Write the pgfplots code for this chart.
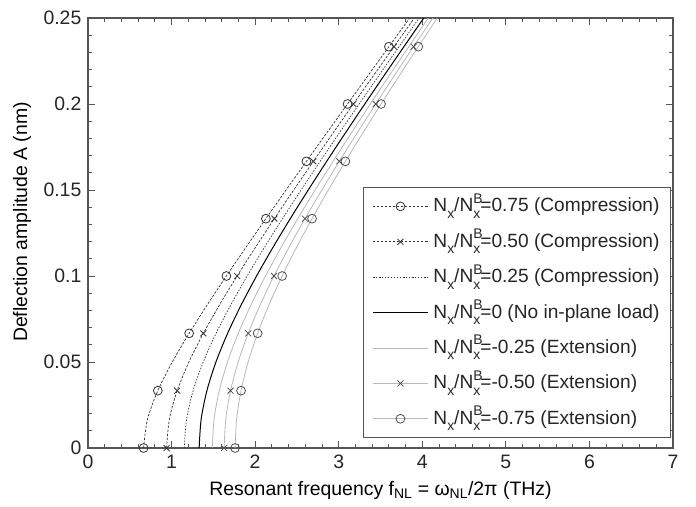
\documentclass[border=0pt]{standalone}
\usepackage{fontspec}
\setmainfont{Liberation Sans}
\usepackage{pgfplots}
\usepackage{pgfplotstable}
\pgfplotsset{compat=1.18}
\newcommand{\ssz}[1]{\hbox{\fontsize{14}{14}\selectfont #1}}
\newcommand{\nxb}{N\raisebox{-6.5bp}{\ssz{x}}/N\rlap{\raisebox{8.5bp}{\ssz{B}}}\raisebox{-6.5bp}{\ssz{x}}}
\definecolor{axgray}{HTML}{555555}
\definecolor{darkl}{HTML}{333333}
\definecolor{lightl}{HTML}{B8B8B8}
\definecolor{markg}{HTML}{505050}

% A (nm) and resonant frequency (THz) for each in-plane load ratio
\pgfplotstableread{
A        a      b      c      d      e      f      g
0.000000 0.6650 0.9400 1.1520 1.3300 1.4870 1.6290 1.7600
0.016667 0.7114 0.9734 1.1794 1.3538 1.5083 1.6485 1.7781
0.033333 0.8353 1.0673 1.2580 1.4228 1.5706 1.7056 1.8312
0.050000 1.0086 1.2077 1.3792 1.5310 1.6692 1.7968 1.9164
0.066667 1.2101 1.3805 1.5328 1.6707 1.7982 1.9173 2.0297
0.083333 1.4281 1.5751 1.7101 1.8347 1.9515 2.0617 2.1668
0.100000 1.6560 1.7843 1.9045 2.0172 2.1240 2.2257 2.3233
0.116667 1.8902 2.0035 2.1113 2.2135 2.3112 2.4050 2.4956
0.133333 2.1287 2.2299 2.3272 2.4203 2.5100 2.5966 2.6808
0.150000 2.3701 2.4614 2.5499 2.6351 2.7178 2.7980 2.8762
0.166667 2.6136 2.6968 2.7778 2.8562 2.9326 3.0071 3.0800
0.183333 2.8588 2.9350 3.0096 3.0821 3.1531 3.2224 3.2906
0.200000 3.1052 3.1755 3.2446 3.3119 3.3781 3.4429 3.5068
0.216667 3.3525 3.4177 3.4820 3.5449 3.6067 3.6675 3.7276
0.233333 3.6006 3.6614 3.7215 3.7804 3.8384 3.8956 3.9522
0.250000 3.8493 3.9062 3.9626 4.0180 4.0726 4.1266 4.1800
}\datatable

\begin{document}
\fontsize{19.5}{23}\selectfont
\begin{tikzpicture}
\begin{axis}[
  width=585bp, height=430bp, scale only axis,
  xmin=0, xmax=7, ymin=0, ymax=0.25,
  xtick={0,1,2,3,4,5,6,7},
  ytick={0,0.05,0.1,0.15,0.2,0.25},
  yticklabels={0,0.05,0.1,0.15,0.2,0.25},
  minor x tick num=4, minor y tick num=4,
  tick align=inside,
  major tick length=7bp, minor tick length=4bp,
  axis line style={axgray, line width=1.2bp},
  every tick/.style={axgray, line width=0.8bp},
  tick label style={font=\fontsize{19.5}{23}\selectfont, text=black!85},
  /pgf/number format/assume math mode=true,
  clip mode=individual,
  xlabel={Resonant frequency f$_{\ssz{NL}}$ = ω$_{\ssz{NL}}$/2π (THz)},
  ylabel={Deflection amplitude A (nm)},
  label style={font=\fontsize{20.5}{24}\selectfont, text=black!85},
  every axis x label/.style={at={(rel axis cs:0.5,-0.0977)}, anchor=center},
  every axis y label/.style={at={(rel axis cs:-0.1128,0.5256)}, anchor=center, rotate=90},
  legend style={at={(0.470,0.0233)}, anchor=south west, draw=axgray, line width=1bp,
    font=\fontsize{19.2}{23}\selectfont, text=black!85, row sep=0bp, column sep=3bp,
    inner xsep=9bp, inner ysep=1bp,
    nodes={text height=21bp, text depth=10bp, inner ysep=2.2bp}},
  legend cell align=left,
  legend image code/.code={\draw[mark repeat=2,mark phase=2,#1] plot coordinates {(0bp,0bp) (27.5bp,0bp) (55bp,0bp)};},
]
\addplot[darkl, line width=0.7bp, dash pattern=on 2.5bp off 1.5bp, smooth,
  mark=o, mark size=4.4bp, mark repeat=2, mark options={solid, darkl, line width=0.8bp}]
  table[x=a, y=A]{\datatable};
\addlegendentry{\nxb=0.75 (Compression)}
\addplot[darkl, line width=0.7bp, dash pattern=on 2.5bp off 1.5bp, smooth,
  mark=x, mark size=4.2bp, mark repeat=2, mark options={solid, darkl, line width=0.8bp}]
  table[x=b, y=A]{\datatable};
\addlegendentry{\nxb=0.50 (Compression)}
\addplot[darkl, line width=0.7bp, dash pattern=on 1.5bp off 1.5bp, smooth]
  table[x=c, y=A]{\datatable};
\addlegendentry{\nxb=0.25 (Compression)}
\addplot[black, line width=1bp, smooth]
  table[x=d, y=A]{\datatable};
\addlegendentry{\nxb=0 (No in-plane load)}
\addplot[lightl, line width=0.8bp, smooth]
  table[x=e, y=A]{\datatable};
\addlegendentry{\nxb=-0.25 (Extension)}
\addplot[lightl, line width=0.8bp, smooth,
  mark=x, mark size=4.2bp, mark repeat=2, mark options={solid, markg, line width=0.8bp}]
  table[x=f, y=A]{\datatable};
\addlegendentry{\nxb=-0.50 (Extension)}
\addplot[lightl, line width=0.8bp, smooth,
  mark=o, mark size=4.4bp, mark repeat=2, mark options={solid, markg, line width=0.8bp}]
  table[x=g, y=A]{\datatable};
\addlegendentry{\nxb=-0.75 (Extension)}
\end{axis}
\path (current axis.south west) +(-88bp,-58bp);
\path (current axis.north east) +(23bp,18bp);
\end{tikzpicture}
\end{document}
